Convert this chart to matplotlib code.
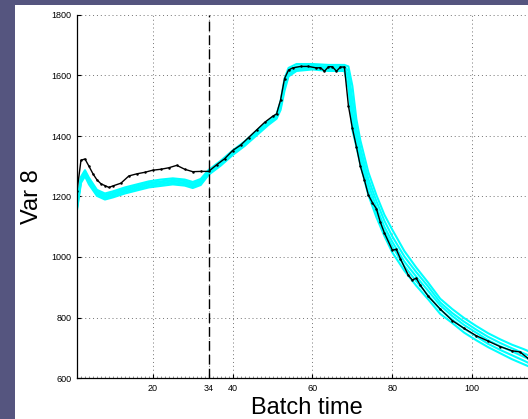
import matplotlib
matplotlib.use("Agg")
import matplotlib.pyplot as plt
from matplotlib.ticker import MultipleLocator

# ---------------- data ----------------
ref_x = [1, 2, 3, 4, 5, 6, 7, 8, 9, 10, 12, 14, 16, 18, 20, 22, 24, 26, 28, 30, 32, 34,
         36, 38, 40, 42, 44, 46, 48, 50, 51, 52, 53, 54, 55, 57, 59, 61, 62, 63, 64, 65,
         66, 67, 68, 69, 70, 71, 72, 73, 74, 75, 76, 77, 78, 80, 81, 82, 84, 85, 86, 87,
         89, 92, 95, 98, 101, 104, 107, 110, 112, 114, 116]
ref_y = [1218, 1320, 1324, 1300, 1275, 1255, 1242, 1236, 1230, 1235, 1244, 1268, 1275, 1280,
         1287, 1290, 1295, 1303, 1290, 1282, 1283, 1283,
         1305, 1325, 1352, 1370, 1395, 1420, 1445, 1465, 1473, 1519, 1590, 1618, 1625, 1630,
         1630, 1625, 1626, 1614, 1629, 1629, 1614, 1628, 1628, 1500, 1425, 1365, 1300, 1255,
         1205, 1180, 1160, 1115, 1080, 1023, 1025, 995, 940, 924, 930, 907,
         870, 828, 790, 764, 740, 722, 704, 690, 686, 665, 655]

cyan_x = [1, 2, 3, 4, 6, 8, 10, 13, 16, 19, 22, 25, 28, 30, 32, 34, 37, 40, 43, 46, 49, 51,
          52, 53, 54, 56, 60, 64, 68, 69, 70, 71, 72, 74, 76, 78, 80, 83, 86, 89, 92, 95,
          98, 101, 104, 107, 110, 113, 116]
cyan_1 = [1176, 1265, 1287, 1262, 1222, 1210, 1217, 1230, 1240, 1250, 1256, 1260, 1256, 1248,
          1258, 1288, 1318, 1352, 1382, 1418, 1452, 1472, 1515, 1590, 1625, 1638, 1638, 1635,
          1635, 1630, 1565, 1455, 1385, 1280, 1205, 1140, 1090, 1020, 965, 915, 862, 828, 798,
          772, 748, 728, 710, 695, 678]
cyan_2 = [1171, 1260, 1282, 1256, 1217, 1205, 1212, 1225, 1235, 1245, 1250, 1255, 1251, 1243,
          1253, 1284, 1314, 1348, 1378, 1414, 1448, 1468, 1508, 1580, 1618, 1630, 1632, 1630,
          1630, 1615, 1520, 1425, 1360, 1258, 1185, 1120, 1068, 1002, 950, 902, 850, 815, 786,
          760, 736, 716, 698, 681, 664]
cyan_3 = [1166, 1255, 1277, 1250, 1212, 1200, 1207, 1220, 1230, 1240, 1245, 1250, 1246, 1238,
          1248, 1280, 1310, 1345, 1375, 1410, 1445, 1465, 1500, 1570, 1610, 1625, 1628, 1625,
          1625, 1600, 1480, 1400, 1340, 1240, 1165, 1100, 1050, 985, 935, 888, 840, 805, 775,
          750, 725, 705, 688, 670, 652]
cyan_4 = [1161, 1250, 1272, 1245, 1207, 1195, 1202, 1215, 1225, 1235, 1240, 1245, 1241, 1233,
          1243, 1276, 1306, 1341, 1371, 1406, 1441, 1461, 1493, 1560, 1603, 1620, 1624, 1620,
          1620, 1590, 1450, 1380, 1320, 1220, 1148, 1085, 1035, 970, 920, 873, 826, 793, 763,
          738, 713, 693, 675, 657, 638]
cyan_5 = [1156, 1245, 1267, 1240, 1202, 1190, 1197, 1210, 1220, 1230, 1235, 1240, 1236, 1228,
          1238, 1272, 1302, 1337, 1367, 1402, 1437, 1457, 1486, 1550, 1597, 1615, 1620, 1615,
          1615, 1560, 1420, 1365, 1305, 1205, 1132, 1070, 1015, 955, 905, 860, 812, 782, 750,
          725, 702, 682, 662, 645, 628]
cyan_series = [cyan_1, cyan_2, cyan_3, cyan_4, cyan_5]

x_ticks = [20, 34, 40, 60, 80, 100]
y_ticks = [600, 800, 1000, 1200, 1400, 1600, 1800]
split_time = 34

# ---------------- figure ----------------
W, H = 528, 419
fig = plt.figure(figsize=(W / 100, H / 100), dpi=100, facecolor="#55557f")
plt.rcParams["font.family"] = ["Liberation Sans", "DejaVu Sans"]

bg = fig.add_axes([15 / W, 0, 1, (H - 5) / H])
bg.set_facecolor("white")
bg.set_xticks([]); bg.set_yticks([])
for s in bg.spines.values():
    s.set_visible(False)

left, right, top, bottom = 77, 536, 15, 378
ax = fig.add_axes([left / W, 1 - bottom / H, (right - left) / W, (bottom - top) / H])
ax.set_facecolor("none")

for ys in cyan_series:
    ax.plot(cyan_x, ys, color="#00ffff", lw=1.5, solid_joinstyle="round", zorder=2)
ax.plot(ref_x, ref_y, color="black", lw=1.0, marker=".", markersize=1.6, zorder=3)
ax.axvline(split_time, color="black", lw=1.0, ls=(0, (7, 3)), zorder=4)

ax.set_xlim(1, 116)
ax.set_ylim(600, 1800)
ax.set_xticks(x_ticks)
ax.set_xticklabels([str(t) for t in x_ticks])
ax.set_yticks(y_ticks)
ax.set_yticklabels([str(t) for t in y_ticks])
ax.xaxis.set_minor_locator(MultipleLocator(1))
ax.tick_params(axis="both", which="major", direction="in", length=3, width=0.8,
               labelsize=6.5, pad=4)
ax.tick_params(axis="x", which="minor", direction="in", length=1.5, width=0.5, color="0.4")
ax.grid(True, which="major", color="0.45", ls=(0, (1, 3)), lw=0.7)
ax.set_axisbelow(True)
for s in ["top", "right"]:
    ax.spines[s].set_visible(False)
for s in ["left", "bottom"]:
    ax.spines[s].set_linewidth(0.9)

ax.set_xlabel("Batch time", fontsize=17, labelpad=3)
ax.set_ylabel("Var 8", fontsize=17, labelpad=6)

fig.savefig("out.png", dpi=100, facecolor=fig.get_facecolor())
